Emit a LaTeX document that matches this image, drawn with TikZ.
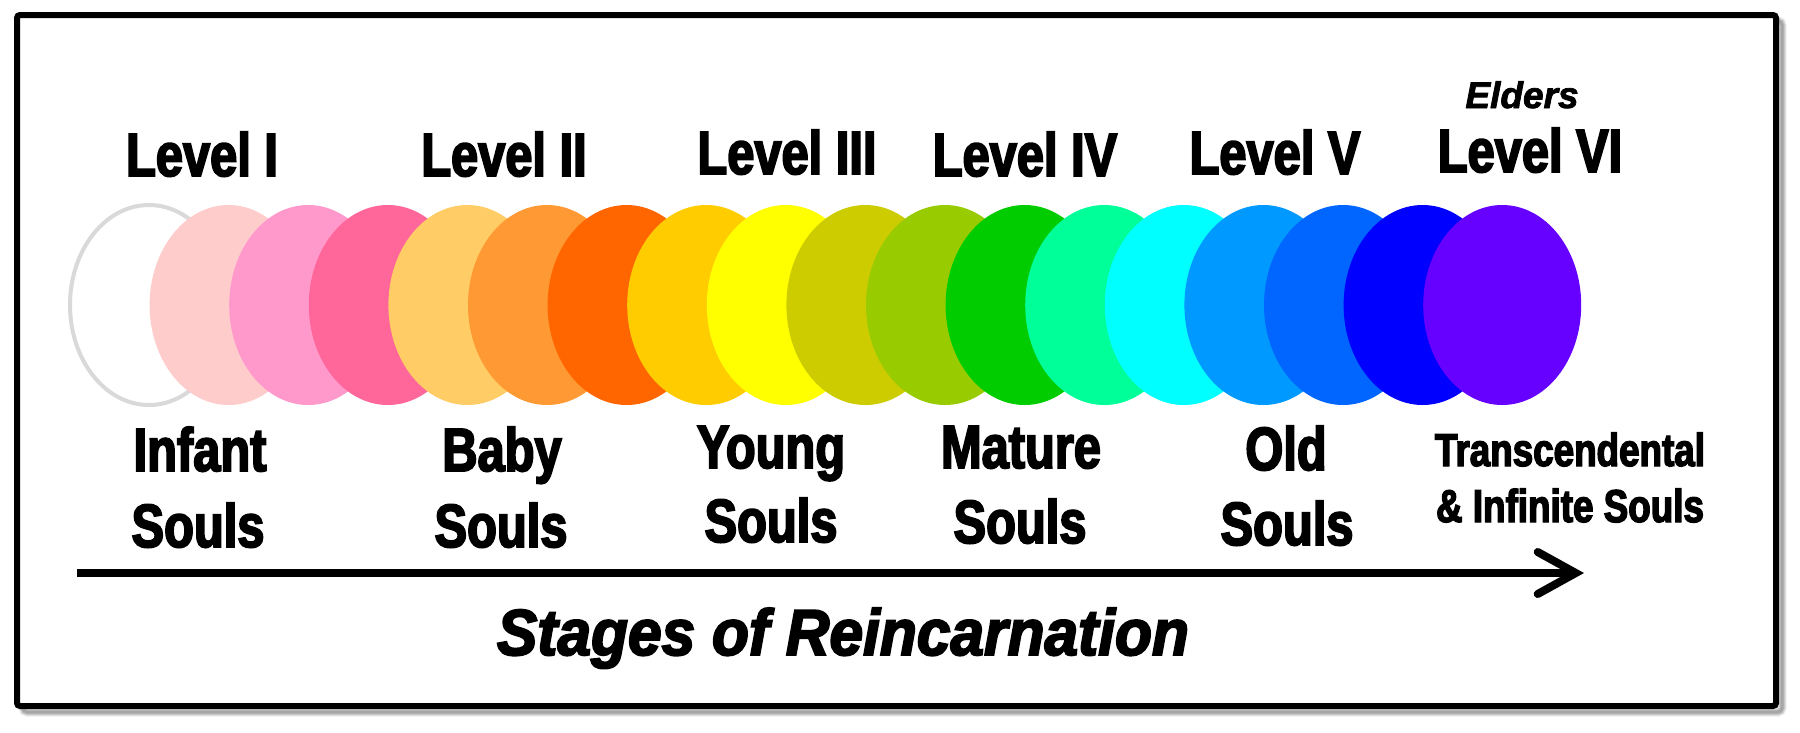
\documentclass[tikz,border=0pt]{standalone}
\usepackage{fontspec}
\setmainfont{Liberation Sans}[FakeBold=2]
\newfontfamily\condfont{Liberation Sans}[FakeStretch=0.8,FakeBold=3]
\newfontfamily\stagefont{Liberation Sans}[FakeStretch=0.93,FakeBold=3]
\usetikzlibrary{shapes.geometric,arrows.meta}
\begin{document}
\begin{tikzpicture}[x=1pt,y=-1pt,
  soul/.style={ellipse, inner sep=0pt, minimum width=158pt, minimum height=200pt},
  lvl/.style={font=\condfont\bfseries\fontsize{61}{70}\selectfont, anchor=base, inner sep=0pt},
  small/.style={font=\condfont\bfseries\fontsize{46}{52}\selectfont, anchor=base, inner sep=0pt},
  elder/.style={font=\bfseries\itshape\fontsize{37}{42}\selectfont, anchor=base, inner sep=0pt},
  stage/.style={font=\stagefont\bfseries\itshape\fontsize{65}{72}\selectfont, anchor=base, inner sep=0pt},
  axis/.style={line width=8pt, -{Straight Barb[length=38pt, width=42pt, line cap=round]}}
]
\useasboundingbox (0,0) rectangle (1800,732);
\fill[white] (0,0) rectangle (1800,732);
% soft shadow
\foreach \k/\o in {9/0.07,7/0.09,5/0.11,3/0.13}{
  \draw[line width=\k pt, black, opacity=\o, rounded corners=4pt] (23,21) rectangle (1782,712);
}
\draw[line width=6pt, black, fill=white, rounded corners=3pt] (17,15) rectangle (1776,706);
% ellipses
\foreach \c [count=\i from 0] in {FFFFFF,FFCCCC,FF99CC,FF6699,FFCC66,FF9933,FF6600,FFCC00,FFFF00,CCCC00,99CC00,00CC00,00FF99,00FFFF,0099FF,0066FF,0000FF,6600FF}{
  \definecolor{soulcol}{HTML}{\c}
  \ifnum\i=0
    \node[soul, fill=white, draw={rgb,255:red,217;green,217;blue,217}, line width=4pt] (e\i) at ({149+79.6*\i},305) {};
  \else
    \node[soul, fill=soulcol] (e\i) at ({149+79.6*\i},305) {};
  \fi
}
% level labels
\node[lvl] (l1) at (202,176) {Level I};
\node[lvl] (l2) at (504,176) {Level II};
\node[lvl] (l3) at (787,174) {Level III};
\node[lvl] (l4) at (1025,176) {Level IV};
\node[lvl] (l5) at (1275,174) {Level V};
\node[lvl] (l6) at (1530,172) {Level VI};
\node[elder] (eld) at (1522,108) {Elders};
% soul labels
\node[lvl] (s1a) at (200,471) {Infant};
\node[lvl] (s1b) at (198,547) {Souls};
\node[lvl] (s2a) at (502,471) {Baby};
\node[lvl] (s2b) at (501,547) {Souls};
\node[lvl] (s3a) at (771,468) {Young};
\node[lvl] (s3b) at (771,542) {Souls};
\node[lvl] (s4a) at (1021,468) {Mature};
\node[lvl] (s4b) at (1020,543) {Souls};
\node[lvl] (s5a) at (1286,470) {Old};
\node[lvl] (s5b) at (1287,545) {Souls};
\node[small] (s6a) at (1570,466) {Transcendental};
\node[small] (s6b) at (1570,522) {\& Infinite Souls};
% axis
\coordinate (as) at (77,573);
\coordinate (ae) at (1584,573);
\draw[axis] (as) -- (ae);
\node[stage] (title) at (843,655) {Stages of Reincarnation};
\end{tikzpicture}
\end{document}
